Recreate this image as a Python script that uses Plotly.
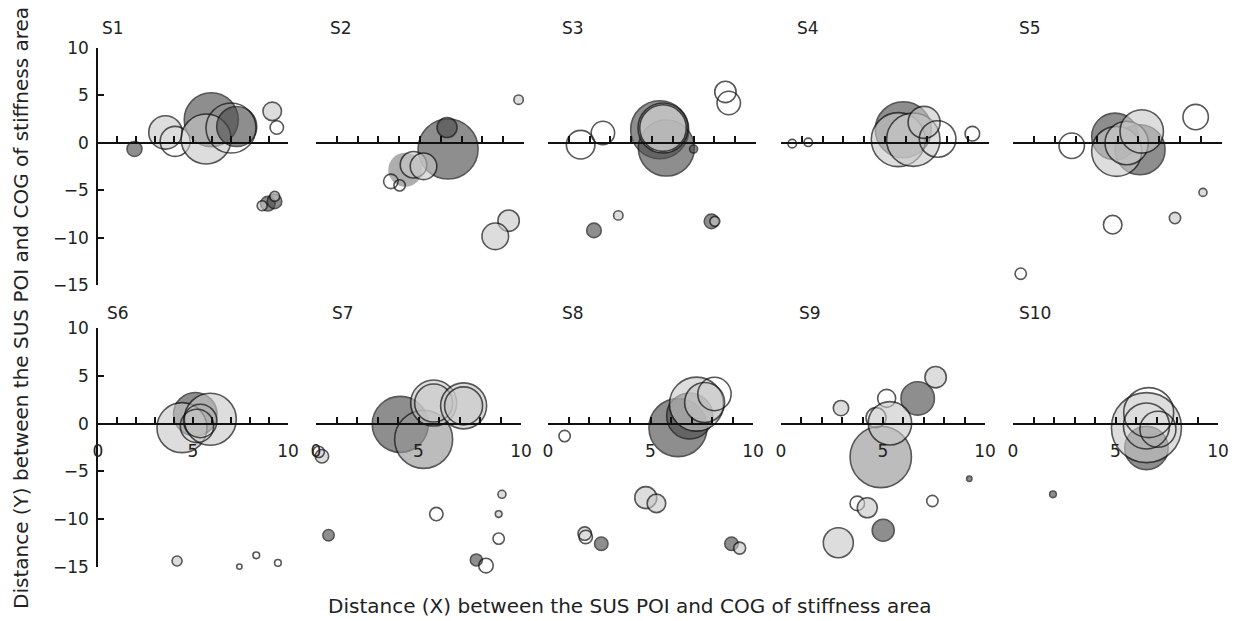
import plotly.graph_objects as go

# ---------------- data (x, y, bubble value, group) ----------------
# groups: D = dark grey, L = light grey, M = mid grey, W = open (outline only), N = dark without outline
S1_X = [1.92, 3.55, 4.06, 5.96, 5.69, 7.3, 7.0, 9.17, 9.41, 8.94, 8.64, 9.29, 9.3]
S1_Y = [-0.66, 1.08, 0.14, 2.42, 0.39, 1.7, 1.54, 3.3, 1.6, -6.42, -6.63, -6.18, -5.65]
S1_V = [5.6, 27.9, 22.5, 72.9, 62.5, 40.0, 62.5, 8.6, 4.5, 5.3, 2.5, 5.3, 2.5]
S1_G = ["D", "L", "W", "D", "L", "D", "W", "L", "W", "D", "L", "D", "L"]

S2_X = [9.74, 6.35, 6.3, 4.29, 4.69, 5.17, 3.6, 4.02, 9.26, 8.62]
S2_Y = [4.53, -0.67, 1.6, -2.84, -2.32, -2.49, -4.07, -4.49, -8.21, -9.86]
S2_V = [2.2, 90.0, 10.0, 28.9, 17.7, 17.7, 5.3, 3.2, 11.4, 17.7]
S2_G = ["L", "D", "D", "N", "L", "L", "W", "W", "L", "L"]

S3_X = [1.57, 2.64, 5.37, 5.69, 5.53, 5.53, 7.0, 8.53, 8.69, 2.21, 3.38, 7.86, 8.02]
S3_Y = [-0.21, 1.02, 1.37, -0.56, 1.54, 1.54, -0.67, 5.34, 4.18, -9.23, -7.65, -8.28, -8.28]
S3_V = [20.4, 13.7, 84.1, 78.4, 62.5, 54.3, 1.6, 11.4, 13.7, 5.3, 2.2, 5.3, 2.5]
S3_G = ["W", "W", "D", "D", "L", "L", "D", "W", "W", "D", "L", "D", "L"]

S4_X = [0.54, 1.31, 5.88, 5.64, 6.36, 6.88, 7.53, 9.2]
S4_Y = [-0.1, 0.04, 1.37, 0.32, 0.32, 2.14, 0.39, 0.95]
S4_V = [1.8, 1.8, 78.4, 72.9, 71.3, 25.6, 33.5, 5.3]
S4_G = ["W", "W", "D", "L", "L", "L", "W", "W"]

S5_X = [2.81, 4.88, 6.08, 4.96, 5.44, 6.16, 8.74, 9.09, 7.75, 4.77, 0.37]
S5_Y = [-0.32, 0.66, -0.74, -0.91, -0.03, 1.19, 2.7, -5.23, -7.93, -8.63, -13.79]
S5_V = [16.1, 54.3, 62.5, 62.5, 47.1, 47.1, 16.1, 1.6, 3.2, 8.6, 3.2]
S5_G = ["W", "D", "D", "L", "L", "L", "W", "L", "L", "W", "W"]

S6_X = [5.12, 4.42, 5.91, 5.21, 5.38, 4.16, 7.44, 8.33, 9.47]
S6_Y = [0.99, -0.42, 0.46, -0.24, 0.28, -14.4, -14.99, -13.8, -14.6]
S6_V = [47.1, 62.5, 67.6, 27.9, 27.9, 2.5, 0.7, 1.1, 1.1]
S6_G = ["D", "L", "L", "W", "W", "L", "W", "W", "W"]

S7_X = [4.11, 5.25, 5.74, 5.74, 7.2, 7.2, 0.29, 0.13, 9.07, 8.91, 8.91, 5.87, 0.61, 7.82, 8.29, 3.87]
S7_Y = [-0.07, -1.65, 2.16, 2.16, 1.87, 1.87, -3.42, -2.96, -7.41, -9.48, -12.06, -9.48, -11.7, -14.29, -14.88, -15.24]
S7_V = [78.4, 84.1, 52.9, 36.1, 52.9, 36.1, 4.5, 3.2, 1.6, 1.1, 3.2, 4.5, 3.2, 3.6, 5.3, 0.7]
S7_G = ["D", "M", "L", "L", "L", "L", "L", "W", "L", "L", "W", "W", "D", "D", "W", "W"]

S8_X = [0.81, 6.34, 6.91, 7.24, 7.64, 8.12, 4.77, 5.29, 1.79, 1.84, 2.6, 8.95, 9.35]
S8_Y = [-1.3, -0.42, 0.81, 2.05, 2.22, 3.11, -7.76, -8.36, -11.53, -11.88, -12.59, -12.59, -13.05]
S8_V = [3.2, 84.1, 52.9, 72.9, 40.0, 27.9, 12.1, 8.6, 4.5, 4.5, 4.5, 4.5, 3.6]
S8_G = ["W", "D", "D", "L", "L", "W", "L", "L", "L", "W", "D", "D", "L"]

S9_X = [7.58, 6.7, 5.18, 2.94, 4.89, 4.66, 5.34, 9.23, 7.42, 3.74, 4.23, 5.01, 2.81]
S9_Y = [4.87, 2.65, 2.65, 1.63, -3.49, 0.63, 0.04, -5.78, -8.11, -8.36, -8.82, -11.18, -12.49]
S9_V = [11.4, 27.9, 8.1, 5.9, 94.2, 10.0, 47.1, 0.7, 3.2, 5.3, 10.0, 12.1, 22.5]
S9_G = ["L", "D", "W", "L", "M", "W", "L", "D", "W", "W", "L", "D", "L"]

S10_X = [1.95, 4.03, 6.51, 6.51, 6.62, 6.51, 7.07]
S10_Y = [-7.41, -15.06, -2.54, -0.42, 1.16, -0.24, -0.59]
S10_V = [1.1, 3.2, 47.1, 122.5, 62.5, 52.9, 32.4]
S10_G = ["D", "W", "D", "L", "W", "W", "W"]

PANEL_NAMES = ["S1", "S2", "S3", "S4", "S5", "S6", "S7", "S8", "S9", "S10"]
X_TICKS = [0, 1, 2, 3, 4, 5, 6, 7, 8, 9, 10]
X_TICK_TEXT = ["0", "", "", "", "", "5", "", "", "", "", "10"]
Y_TICKS = [-15, -10, -5, 0, 5, 10]
X_TITLE = "Distance (X) between the SUS POI and COG of stiffness area"
Y_TITLE = "Distance (Y) between the SUS POI and COG of stiffness area"

PANELS = [
    (S1_X, S1_Y, S1_V, S1_G), (S2_X, S2_Y, S2_V, S2_G), (S3_X, S3_Y, S3_V, S3_G),
    (S4_X, S4_Y, S4_V, S4_G), (S5_X, S5_Y, S5_V, S5_G), (S6_X, S6_Y, S6_V, S6_G),
    (S7_X, S7_Y, S7_V, S7_G), (S8_X, S8_Y, S8_V, S8_G), (S9_X, S9_Y, S9_V, S9_G),
    (S10_X, S10_Y, S10_V, S10_G),
]

# ---------------- styling ----------------
OFF = 8  # page body margin of the browser
W, H = 1241 - OFF, 621 - OFF
FONT = "DejaVu Sans"
TXT = "#222222"
FILL = {
    "D": "rgba(78,78,78,0.9)",
    "L": "rgba(200,200,200,0.85)",
    "M": "rgba(150,150,150,0.9)",
    "W": "rgba(255,255,255,0)",
    "N": "rgba(100,100,100,0.75)",
}
LINEW = {"D": 1.6, "L": 1.6, "M": 1.6, "W": 1.6, "N": 0}

# plot-area boxes in screen pixels (left, right) per column, (top, bottom) per row
COLS_TOP = [(98, 288), (316, 524), (548, 756), (781, 989), (1013, 1222)]
COLS_BOT = [(98, 288), (316, 521), (548, 753), (781, 985), (1013, 1218)]
ROWS = [(47.7, 285.2), (328.3, 566.7)]
TITLE_POS = [(100, 28), (328, 28), (560, 28), (795, 28), (1017, 28),
             (105, 313), (330, 313), (560, 313), (797, 313), (1017, 313)]


def px_x(p):
    return (p - OFF) / W


def px_y(p):
    return 1 - (p - OFF) / H


fig = go.Figure()
layout = dict(
    width=W, height=H, margin=dict(l=0, r=0, t=0, b=0, autoexpand=False),
    paper_bgcolor="white", plot_bgcolor="rgba(0,0,0,0)",
    showlegend=False, font=dict(family=FONT, color=TXT, size=17),
)
annotations = []

for i, (xs, ys, vs, gs) in enumerate(PANELS):
    row = i // 5
    col = i % 5
    k = "" if i == 0 else str(i + 1)
    l, r = (COLS_TOP if row == 0 else COLS_BOT)[col]
    t, b = ROWS[row]
    xd = [px_x(l), px_x(r)]
    yd = [px_y(b), px_y(t)]
    zero_pos = yd[0] + (0 - (-15)) / 25 * (yd[1] - yd[0])

    fig.add_trace(go.Scatter(
        x=xs, y=ys, mode="markers", xaxis="x" + k, yaxis="y" + k,
        cliponaxis=False, hoverinfo="x+y",
        marker=dict(
            size=vs, sizemode="area", sizeref=0.05,
            color=[FILL[g] for g in gs],
            line=dict(color="#111111", width=[LINEW[g] for g in gs]),
        ),
    ))

    layout["xaxis" + k] = dict(
        domain=xd, range=[0, 10], anchor="free", position=zero_pos,
        automargin=False,
        showline=True, linecolor="#111111", linewidth=1.6,
        ticks="inside", ticklen=6, tickwidth=1.5, tickcolor="#111111",
        tickmode="array", tickvals=X_TICKS, ticktext=X_TICK_TEXT,
        showticklabels=(row == 1), ticklabelstandoff=12,
        tickfont=dict(family=FONT, size=17, color=TXT),
        showgrid=False, zeroline=False, fixedrange=True,
    )
    yax = dict(
        domain=yd, range=[-15, 10], anchor="x" + k, automargin=False,
        showgrid=False, zeroline=False, fixedrange=True,
    )
    if col == 0:
        yax.update(
            visible=True, showline=True, linecolor="#111111", linewidth=1.6,
            ticks="inside", ticklen=6, tickwidth=1.5, tickcolor="#111111",
            tickmode="array", tickvals=Y_TICKS,
            tickfont=dict(family=FONT, size=17, color=TXT), ticklabelstandoff=4,
        )
    else:
        yax.update(visible=False)
    layout["yaxis" + k] = yax

    tx, ty = TITLE_POS[i]
    annotations.append(dict(
        text=PANEL_NAMES[i], xref="paper", yref="paper", x=px_x(tx), y=px_y(ty),
        xanchor="left", yanchor="middle", showarrow=False,
        font=dict(family=FONT, size=17, color=TXT),
    ))

annotations.append(dict(
    text=X_TITLE, xref="paper", yref="paper", x=px_x(630), y=px_y(606),
    xanchor="center", yanchor="middle", showarrow=False,
    font=dict(family=FONT, size=20, color=TXT),
))
annotations.append(dict(
    text=Y_TITLE, xref="paper", yref="paper", x=px_x(21), y=px_y(308),
    xanchor="center", yanchor="middle", showarrow=False, textangle=-90,
    font=dict(family=FONT, size=20, color=TXT),
))
layout["annotations"] = annotations

fig.update_layout(**layout)
fig.write_html("out.html")
